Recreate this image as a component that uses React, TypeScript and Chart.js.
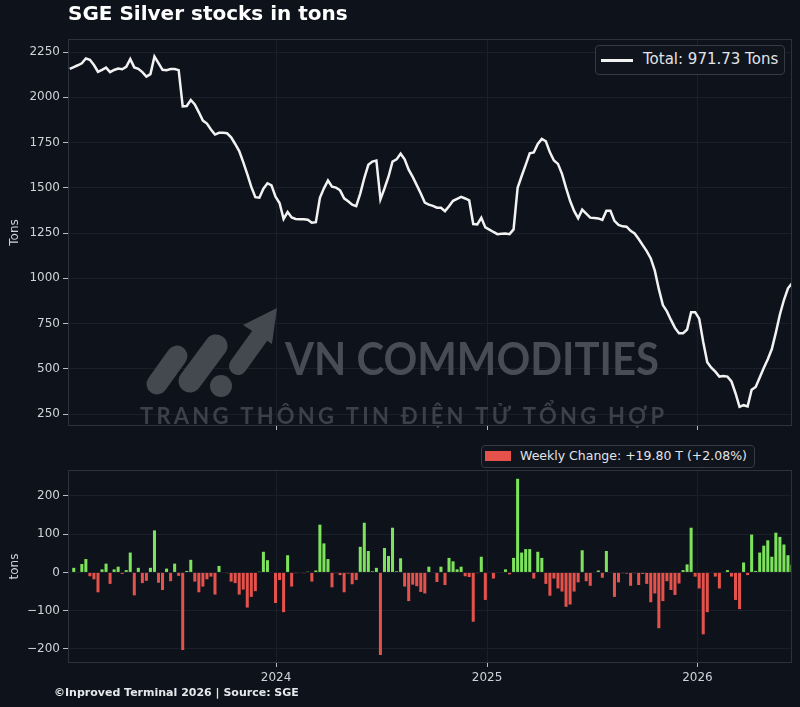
import React, { useEffect, useRef } from 'react';
import { Chart, registerables } from 'chart.js';

Chart.register(...registerables);

// ---- data (weekly observations, SGE silver stocks) ----
const START_DATE = '2023-01-08';
const X_RANGE = ['2023-01-05', '2026-06-14'];

const totalTons = [
  2157, 2167, 2177, 2188, 2214, 2207, 2178, 2141, 2152, 2164,
  2139, 2151, 2159, 2155, 2168, 2211, 2165, 2157, 2139, 2114,
  2128, 2225, 2189, 2152, 2150, 2156, 2156, 2150, 1950, 1952,
  1985, 1960, 1917, 1871, 1855, 1822, 1794, 1804, 1804, 1801,
  1779, 1742, 1703, 1642, 1576, 1505, 1448, 1445, 1495, 1525,
  1513, 1451, 1416, 1328, 1366, 1336, 1328, 1326, 1326, 1324,
  1307, 1310, 1445, 1497, 1540, 1506, 1501, 1486, 1442, 1426,
  1407, 1399, 1468, 1554, 1627, 1645, 1650, 1436, 1496, 1561,
  1645, 1657, 1688, 1657, 1600, 1560, 1515, 1468, 1418, 1407,
  1400, 1390, 1390, 1371, 1398, 1428, 1439, 1450, 1441, 1430,
  1300, 1298, 1334, 1281, 1269, 1256, 1244, 1246, 1248, 1244,
  1270, 1500, 1565, 1627, 1690, 1695, 1742, 1770, 1757, 1696,
  1651, 1632, 1577, 1500, 1428, 1372, 1332, 1379, 1357, 1335,
  1333, 1331, 1322, 1373, 1373, 1317, 1295, 1287, 1285, 1262,
  1248, 1217, 1183, 1150, 1110, 1042, 940, 852, 817, 770,
  726, 696, 696, 717, 813, 813, 777, 648, 536, 506,
  484, 457, 460, 457, 430, 365, 290, 299, 292, 384,
  400, 452, 504, 553, 609, 700, 800, 880, 945, 971.73,
];

const weeklyChange = [
  null, 12, 0, 22, 35, -10, -18, -52, 8, 23,
  -30, 8, 15, -4, 6, 52, -60, 12, -28, -22,
  12, 110, -27, -46, 10, -23, 23, -9, -203, 4,
  33, -24, -52, -37, -18, -11, -58, 17, 0, -2,
  -24, -28, -58, -45, -92, -64, -49, 2, 54, 32,
  0, -80, -20, -104, 45, -37, -2, 0, -2, 2,
  -24, 5, 125, 76, 35, -39, -2, -7, -52, -3,
  -31, -20, 67, 130, 56, 3, 12, -216, 64, 43,
  117, 3, 37, -37, -75, -32, -36, -51, -55, 15,
  0, -25, 15, -33, 38, 29, 8, 15, -10, -12,
  -129, -2, 41, -72, 0, -16, 0, 0, 8, -5,
  38, 245, 52, 61, 61, -16, 54, 38, -30, -61,
  -16, -42, -50, -90, -84, -50, -26, 58, -23, -35,
  0, 5, -14, 56, 0, -64, -26, -2, -3, -35,
  -2, -33, -4, -30, -78, -55, -146, -75, -23, -46,
  -59, -29, 6, 21, 117, -11, -42, -162, -104, 0,
  -11, -42, 0, 6, -11, -72, -96, 26, -7, 99,
  4, 52, 70, 84, 41, 104, 93, 73, 45, 19.8,
];

const topYTicks = [250, 500, 750, 1000, 1250, 1500, 1750, 2000, 2250];
const topYRange = [184, 2322];
const bottomYTicks = [-200, -100, 0, 100, 200];
const bottomYRange = [-237, 268];
const yearTicks = [2024, 2025, 2026];

const TITLE = 'SGE Silver stocks in tons';
const LEGEND_TOTAL = 'Total: 971.73 Tons';
const LEGEND_CHANGE = 'Weekly Change: +19.80 T (+2.08%)';
const FOOTER = '\u00A9Inproved Terminal 2026 | Source: SGE';
const WM_TITLE = 'VN COMMODITIES';
const WM_SUB = 'TRANG THÔNG TIN ĐIỆN TỬ TỔNG HỢP';

// ---- style ----
const BG = '#0e121b';
const GRID = '#1a1f29';
const SPINE = '#2c333f';
const TICK = '#b8bcc4';
const TEXT = '#cfd3d9';
const LINE = '#f2f2f2';
const GREEN = '#7ee35c';
const RED = '#e4524b';
const WM = '#44484f';
const FONT = 'DejaVu Sans';

const DAY = 86400000;
const t0 = Date.parse(START_DATE + 'T00:00:00Z');
const weekDates = totalTons.map((_, i) => t0 + i * 7 * DAY);
const xMin = Date.parse(X_RANGE[0] + 'T00:00:00Z');
const xMax = Date.parse(X_RANGE[1] + 'T00:00:00Z');
const yearValues = yearTicks.map((y) => Date.UTC(y, 0, 1));

const framePlugin = {
  id: 'frame',
  afterDatasetsDraw(chart: any) {
    const { ctx, chartArea } = chart;
    ctx.save();
    ctx.strokeStyle = SPINE;
    ctx.lineWidth = 1;
    ctx.strokeRect(chartArea.left + 0.5, chartArea.top + 0.5, chartArea.right - chartArea.left - 1, chartArea.bottom - chartArea.top - 1);
    ctx.restore();
  },
};

const watermarkPlugin = {
  id: 'watermark',
  beforeDatasetsDraw(chart: any) {
    const ctx = chart.ctx;
    ctx.save();
    ctx.fillStyle = WM;
    ctx.strokeStyle = WM;
    ctx.lineCap = 'round';
    const cap = (x1: number, y1: number, x2: number, y2: number, w: number) => {
      ctx.lineWidth = w;
      ctx.beginPath();
      ctx.moveTo(x1, y1);
      ctx.lineTo(x2, y2);
      ctx.stroke();
    };
    cap(157, 384, 177, 356, 21);
    cap(190, 381, 216, 346, 23);
    ctx.beginPath();
    ctx.arc(221, 386, 11, 0, Math.PI * 2);
    ctx.fill();
    cap(238, 366, 261, 334, 18);
    ctx.beginPath();
    ctx.moveTo(277, 308);
    ctx.lineTo(243, 325);
    ctx.lineTo(272, 344);
    ctx.closePath();
    ctx.fill();

    ctx.textBaseline = 'alphabetic';
    ctx.textAlign = 'left';
    // main word mark, fitted to its width
    ctx.font = 'bold 46px Lato';
    ctx.fillStyle = '#484c55';
    const w1 = ctx.measureText(WM_TITLE).width;
    ctx.save();
    ctx.translate(285, 375);
    ctx.scale(374 / w1, 1);
    ctx.fillText(WM_TITLE, 0, 0);
    ctx.restore();
    // subtitle, letter-spaced to its width
    ctx.font = 'bold 22px Lato';
    ctx.fillStyle = '#3c4048';
    const chars = Array.from(WM_SUB);
    const widths = chars.map((c) => ctx.measureText(c).width);
    const natural = widths.reduce((a, b) => a + b, 0);
    const gap = (524 - natural) / (chars.length - 1);
    let x = 140;
    chars.forEach((c, i) => {
      ctx.fillText(c, x, 424);
      x += widths[i] + gap;
    });
    ctx.restore();
  },
};

const fmt = (v: number) => (v < 0 ? '\u2212' + Math.abs(v) : String(v));

export default function App() {
  const topRef = useRef<HTMLCanvasElement>(null);
  const botRef = useRef<HTMLCanvasElement>(null);

  useEffect(() => {
    Chart.defaults.font.family = FONT;
    const xCommon = (showLabels: boolean, height: number) => ({
      type: 'linear' as const,
      min: xMin,
      max: xMax,
      offset: false,
      afterBuildTicks: (s: any) => {
        s.ticks = yearValues.map((v) => ({ value: v }));
      },
      afterFit: (s: any) => {
        s.height = height;
      },
      ticks: {
        display: showLabels,
        color: TEXT,
        font: { size: 12 },
        padding: 4,
        maxRotation: 0,
        callback: (v: any) => String(new Date(v).getUTCFullYear()),
      },
      grid: { color: GRID, tickColor: TICK, tickLength: 4, offset: false, drawTicks: true },
      border: { display: false },
    });
    const yCommon = (ticks: number[], range: number[], title: string) => ({
      type: 'linear' as const,
      min: range[0],
      max: range[1],
      afterBuildTicks: (s: any) => {
        s.ticks = ticks.map((v) => ({ value: v }));
      },
      afterFit: (s: any) => {
        s.width = 68;
      },
      ticks: { color: TEXT, font: { size: 12 }, padding: 3, callback: (v: any) => fmt(v) },
      grid: { color: GRID, tickColor: TICK, tickLength: 5 },
      border: { display: false },
      title: { display: true, text: title, color: TEXT, font: { size: 12 }, padding: { top: 8, bottom: 0 } },
    });

    const top = new Chart(topRef.current!, {
      type: 'line',
      data: {
        datasets: [
          {
            data: totalTons.map((v, i) => ({ x: weekDates[i], y: v })),
            borderColor: LINE,
            borderWidth: 2.5,
            pointRadius: 0,
            tension: 0,
            fill: false,
          },
        ],
      },
      options: {
        animation: false,
        responsive: false,
        devicePixelRatio: 1,
        layout: { padding: { left: 0, right: 8, top: 39, bottom: 0 } },
        plugins: { legend: { display: false }, tooltip: { enabled: false } },
        scales: {
          x: xCommon(false, 14),
          y: yCommon(topYTicks, topYRange, 'Tons'),
        },
      } as any,
      plugins: [framePlugin, watermarkPlugin],
    });

    const bot = new Chart(botRef.current!, {
      type: 'bar',
      data: {
        datasets: [
          {
            data: weeklyChange.map((v, i) => ({ x: weekDates[i], y: v })),
            backgroundColor: weeklyChange.map((v) => ((v ?? 0) >= 0 ? GREEN : RED)),
            borderWidth: 0,
            barPercentage: 0.75,
            categoryPercentage: 1,
          },
        ],
      },
      options: {
        animation: false,
        responsive: false,
        devicePixelRatio: 1,
        layout: { padding: { left: 0, right: 8, top: 30, bottom: 0 } },
        plugins: { legend: { display: false }, tooltip: { enabled: false } },
        scales: {
          x: xCommon(true, 44),
          y: yCommon(bottomYTicks, bottomYRange, 'tons'),
        },
      } as any,
      plugins: [framePlugin],
    });

    return () => {
      top.destroy();
      bot.destroy();
    };
  }, []);

  return (
    <div
      style={{
        position: 'fixed',
        left: 0,
        top: 0,
        width: 800,
        height: 707,
        background: BG,
        overflow: 'hidden',
        fontFamily: FONT,
      }}
    >
      <canvas ref={topRef} width={800} height={440} style={{ position: 'absolute', left: 0, top: 0, width: 800, height: 440 }} />
      <canvas ref={botRef} width={800} height={267} style={{ position: 'absolute', left: 0, top: 440, width: 800, height: 267 }} />
      <div
        style={{
          position: 'absolute',
          left: 68,
          top: 1,
          fontSize: 20,
          lineHeight: '24px',
          fontWeight: 'bold',
          color: '#ffffff',
          whiteSpace: 'nowrap',
        }}
      >
        {TITLE}
      </div>
      <div
        style={{
          position: 'absolute',
          left: 595,
          top: 45,
          width: 188,
          height: 28,
          border: '1px solid #343b47',
          borderRadius: 4,
          background: '#0f141d',
        }}
      >
        <div style={{ position: 'absolute', left: 5, top: 13, width: 32, height: 2.5, background: LINE }} />
        <div
          style={{
            position: 'absolute',
            left: 47,
            top: 4,
            fontSize: 15,
            lineHeight: '19px',
            color: '#e2e4e8',
            whiteSpace: 'nowrap',
          }}
        >
          {LEGEND_TOTAL}
        </div>
      </div>
      <div
        style={{
          position: 'absolute',
          left: 481,
          top: 445,
          width: 272,
          height: 21,
          border: '1px solid #343b47',
          borderRadius: 4,
          background: '#0f141d',
        }}
      >
        <div style={{ position: 'absolute', left: 3, top: 5, width: 26, height: 10, background: RED }} />
        <div
          style={{
            position: 'absolute',
            left: 38,
            top: 2,
            fontSize: 12.5,
            lineHeight: '16px',
            color: '#e2e4e8',
            whiteSpace: 'nowrap',
          }}
        >
          {LEGEND_CHANGE}
        </div>
      </div>
      <div
        style={{
          position: 'absolute',
          left: 54,
          top: 686,
          fontSize: 11,
          lineHeight: '14px',
          fontWeight: 'bold',
          color: '#e6e8ec',
          whiteSpace: 'nowrap',
        }}
      >
        {FOOTER}
      </div>
    </div>
  );
}
